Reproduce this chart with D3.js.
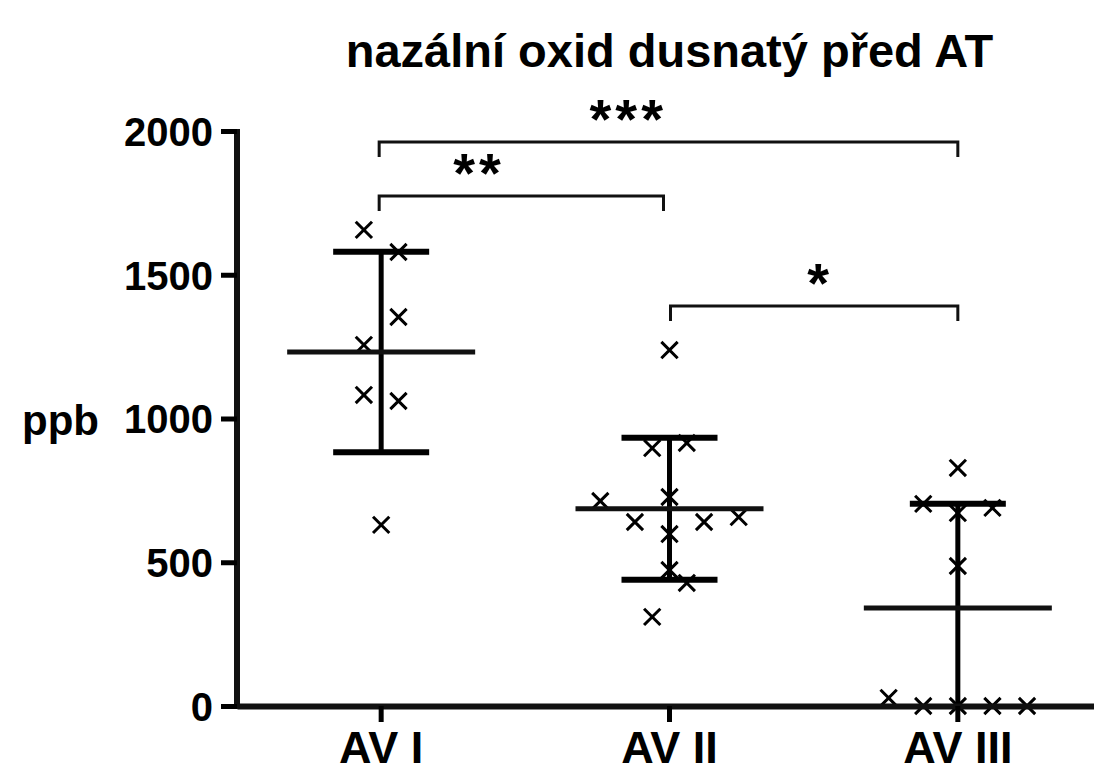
<!DOCTYPE html>
<html>
<head>
<meta charset="utf-8">
<script src="https://cdnjs.cloudflare.com/ajax/libs/d3/7.8.5/d3.min.js"></script>
<style>
  body { margin: 0; background: #fff; }
  text { font-family: "Liberation Sans", Arial, sans-serif; font-weight: bold; fill: #000; }
</style>
</head>
<body>
<svg id="chart"></svg>
<script>

    var width = 1094,
        height = 764;

    // groups and the measured values (ppb)
    var groups = ["AV I", "AV II", "AV III"];
    var avI   = [1656, 1579, 1353, 1256, 1082, 1061, 630];
    var avII  = [1238, 897, 915, 713, 727, 640, 640, 657, 598, 473, 428, 310];
    var avIII = [828, 703, 671, 689, 487, 28, 0, 0, 0, 0];
    // column scatter slot of each point (side-by-side placement)
    var avISlot   = [-1, 1, 1, -1, -1, 1, 0];
    var avIISlot  = [0, -1, 1, -4, 0, -2, 2, 4, 0, 0, 1, -1];
    var avIIISlot = [0, -2, 0, 2, 0, -4, -2, 0, 2, 4];

    var yTicks = [0, 500, 1000, 1500, 2000];

    // significance comparisons: [from group, to group], label, bracket height (ppb)
    var compPairs  = [[0, 2], [0, 1], [1, 2]];
    var compLabels = ["***", "**", "*"];
    var compLevels = [1962, 1774, 1391];
    var compLabelPos = [0.427, 0.344, 0.514];

    var values = [avI, avII, avIII],
        slots = [avISlot, avIISlot, avIIISlot];

    var svg = d3.select("#chart")
        .attr("width", width)
        .attr("height", height);

    var x = d3.scaleBand()
        .domain(groups)
        .range([237, 1102])
        .padding(0);

    var y = d3.scaleLinear()
        .domain([0, 2000])
        .range([706, 131]);

    var cx = function(i) { return x(groups[i]) + x.bandwidth() / 2; };
    var slotW = x.bandwidth() * 0.06;

    // title
    svg.append("text")
        .attr("x", (x.range()[0] + x.range()[1]) / 2)
        .attr("y", 67)
        .attr("text-anchor", "middle")
        .style("font-size", "47px")
        .text("nazální oxid dusnatý před AT");

    // y label
    svg.append("text")
        .attr("x", 22)
        .attr("y", 435)
        .style("font-size", "42px")
        .text("ppb");

    // clip so error bars don't go below zero
    svg.append("clipPath").attr("id", "plot")
        .append("rect")
        .attr("x", x.range()[0]).attr("y", 0)
        .attr("width", 900).attr("height", y(0));

    // y axis
    var yAxis = svg.append("g")
        .attr("transform", "translate(237,0)")
        .call(d3.axisLeft(y).tickValues(yTicks).tickFormat(d3.format("d"))
            .tickSize(16).tickSizeOuter(0).tickPadding(8));
    yAxis.select(".domain").attr("stroke", "#111").attr("stroke-width", 6)
        .attr("d", "M0," + (y(0) + 3) + "V" + (y(2000) - 2));
    yAxis.selectAll(".tick line").attr("stroke", "#000").attr("stroke-width", 5);
    yAxis.selectAll(".tick text").style("font-size", "40px").attr("dy", "0.36em")
        .style("font-family", "Liberation Sans, Arial, sans-serif").style("font-weight", "bold");

    // points
    var pts = svg.append("g");
    values.forEach(function(vals, i) {
        pts.selectAll(null)
            .data(vals)
            .enter().append("path")
            .attr("transform", function(d, j) {
                return "translate(" + (cx(i) + slots[i][j] * slotW) + "," + y(d) + ")";
            })
            .attr("d", d3.symbol(d3.symbolX, 175))
            .attr("fill", "none")
            .attr("stroke", "#000")
            .attr("stroke-width", 3);
    });

    // mean and SD
    var stats = svg.append("g").attr("clip-path", "url(#plot)");
    values.forEach(function(vals, i) {
        var m = d3.mean(vals),
            sd = d3.deviation(vals),
            c = cx(i);
        stats.append("line")
            .attr("x1", c).attr("x2", c)
            .attr("y1", y(m + sd)).attr("y2", y(m - sd))
            .attr("stroke", "#000").attr("stroke-width", 5);
        [m + sd, m - sd].forEach(function(v) {
            stats.append("line")
                .attr("x1", c - 48).attr("x2", c + 48)
                .attr("y1", y(v)).attr("y2", y(v))
                .attr("stroke", "#000").attr("stroke-width", 6);
        });
        stats.append("line")
            .attr("x1", c - 94).attr("x2", c + 94)
            .attr("y1", y(m)).attr("y2", y(m))
            .attr("stroke", "#111").attr("stroke-width", 5);
    });

    // x axis
    var xAxis = svg.append("g")
        .attr("transform", "translate(0," + y(0) + ")")
        .call(d3.axisBottom(x).tickSize(16).tickSizeOuter(0).tickPadding(10));
    xAxis.select(".domain").attr("stroke", "#111").attr("stroke-width", 6);
    xAxis.selectAll(".tick line").attr("stroke", "#000").attr("stroke-width", 5);
    xAxis.selectAll(".tick text").style("font-size", "45px")
        .attr("y", 0).attr("dy", 57)
        .style("font-family", "Liberation Sans, Arial, sans-serif").style("font-weight", "bold");

    // significance brackets
    var br = svg.append("g");
    compPairs.forEach(function(p, k) {
        var x1 = cx(p[0]) - 2,
            x2 = cx(p[1]) - (k === 1 ? 6 : 0),
            yy = y(compLevels[k]);
        if (k === 2) x1 = cx(p[0]) + 1;
        br.append("path")
            .attr("d", "M" + x1 + "," + (yy + 15) + "V" + yy + "H" + x2 + "V" + (yy + 15))
            .attr("fill", "none")
            .attr("stroke", "#111")
            .attr("stroke-width", 3);
        br.append("text")
            .attr("x", x1 + (x2 - x1) * compLabelPos[k] + 2)
            .attr("y", yy - 4)
            .attr("text-anchor", "middle")
            .style("font-size", "56px")
            .style("letter-spacing", "4px")
            .text(compLabels[k]);
    });

</script>
</body>
</html>
